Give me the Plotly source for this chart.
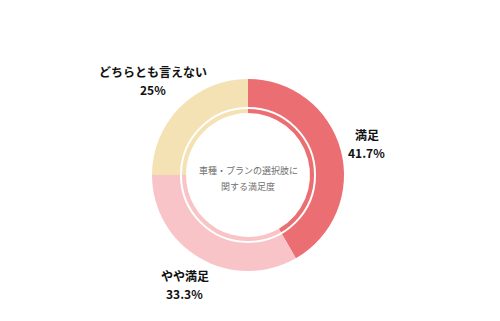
import math
import plotly.graph_objects as go

# ---- data ----
categories = ["満足", "やや満足", "どちらとも言えない"]
values = [41.7, 33.3, 25]
colors = ["#EB6F72", "#F9C4C7", "#F4E1B4"]
center_lines = ["車種・プランの選択肢に", "関する満足度"]

# ---- layout constants (px) ----
W, H = 500, 321
CX, CY = 248, 175          # donut centre
R_OUT = 96                 # outer radius
R_HOLE = 62                # hole radius
R_RING = 67                # thin white ring radius
LABEL_R = [123, 126, 134]  # label distance from centre per slice
LINE_GAP = 9               # half distance between label lines

FONT = "Noto Sans CJK JP"


def dom(r):
    return dict(
        x=[(CX - r) / W, (CX + r) / W],
        y=[(H - CY - r) / H, (H - CY + r) / H],
    )


fig = go.Figure()
fig.add_trace(go.Pie(
    labels=categories, values=values, sort=False, direction="clockwise",
    rotation=0, hole=R_HOLE / R_OUT, domain=dom(R_OUT),
    marker=dict(colors=colors, line=dict(width=0)),
    textinfo="none", hoverinfo="label+percent", showlegend=False,
))
fig.add_trace(go.Pie(
    labels=["ring"], values=[1], sort=False, domain=dom(R_RING),
    marker=dict(colors=["rgba(0,0,0,0)"], line=dict(color="white", width=2)),
    textinfo="none", hoverinfo="skip", showlegend=False,
))

annotations = []
total = sum(values)
cum = 0
for i, (cat, v) in enumerate(zip(categories, values)):
    mid = (cum + v / 2) / total * 2 * math.pi
    cum += v
    px = CX + LABEL_R[i] * math.sin(mid)
    py = CY - LABEL_R[i] * math.cos(mid)
    for txt, off in ((cat, -LINE_GAP), (f"{v:g}%", LINE_GAP)):
        annotations.append(dict(
            x=px / W, y=1 - (py + off) / H, xref="paper", yref="paper",
            text=f"<b>{txt}</b>", showarrow=False, xanchor="center", yanchor="middle",
            font=dict(family=FONT, size=12, color="#111111"),
        ))

for txt, yy in zip(center_lines, (171, 187)):
    annotations.append(dict(
        x=CX / W, y=1 - yy / H, xref="paper", yref="paper", text=txt,
        showarrow=False, xanchor="center", yanchor="middle",
        font=dict(family=FONT, size=9, color="#6f6f6f"),
    ))

fig.update_layout(
    width=W, height=H, margin=dict(l=0, r=0, t=0, b=0),
    paper_bgcolor="white", plot_bgcolor="white",
    annotations=annotations,
)
fig.write_html("out.html")
